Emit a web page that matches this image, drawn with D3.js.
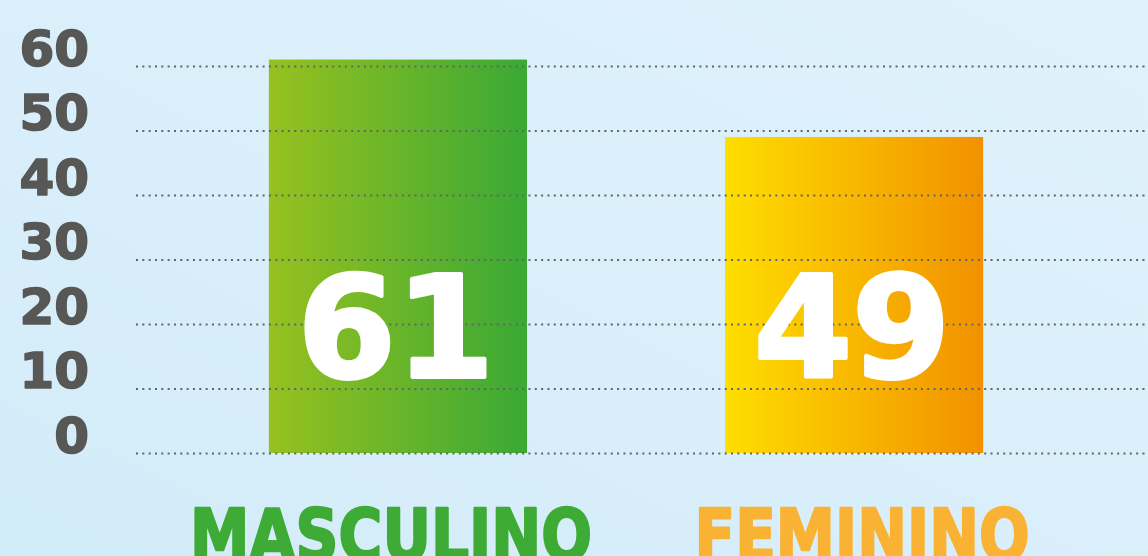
<!DOCTYPE html>
<html>
<head>
<meta charset="utf-8">
<script src="https://cdn.jsdelivr.net/npm/d3@7"></script>
<style>
  html, body { margin: 0; padding: 0; overflow: hidden; }
  svg { display: block; }
</style>
</head>
<body>
<div id="chart"></div>
<script>
const categories = ["MASCULINO", "FEMININO"];
const values = [61, 49];
const yTicks = [0, 10, 20, 30, 40, 50, 60];

const WIDTH = 1148;
const HEIGHT = 556;
const FONT = "'DejaVu Sans', Verdana, sans-serif";

const palettes = [
  { from: "#97c11f", to: "#3aa935", label: "#3dab35" },
  { from: "#ffde00", to: "#f29100", label: "#f9b233" },
];

// category label layout: target width and nudge from the bar centre
const labelWidths = [402, 335];
const labelShift = [-7, 8];

const svg = d3.select("#chart")
  .append("svg")
  .attr("width", WIDTH)
  .attr("height", HEIGHT);

const defs = svg.append("defs");

const bg = defs.append("linearGradient")
  .attr("id", "bg")
  .attr("x1", 0).attr("y1", 1).attr("x2", 1).attr("y2", 0);
bg.append("stop").attr("offset", 0).attr("stop-color", "#d3ecf9");
bg.append("stop").attr("offset", 1).attr("stop-color", "#e0f2fc");

palettes.forEach((p, i) => {
  const g = defs.append("linearGradient")
    .attr("id", `bar-${i}`)
    .attr("x1", 0).attr("y1", 0).attr("x2", 1).attr("y2", 0);
  g.append("stop").attr("offset", 0).attr("stop-color", p.from);
  g.append("stop").attr("offset", 1).attr("stop-color", p.to);
});

svg.append("rect")
  .attr("width", WIDTH)
  .attr("height", HEIGHT)
  .attr("fill", "url(#bg)");

const y = d3.scaleLinear().domain([0, 60]).range([453, 66]);

const x = d3.scaleBand()
  .domain(categories)
  .range([132, 1120])
  .paddingInner(0.434)
  .paddingOuter(0.3);

// bars
svg.append("g")
  .selectAll("rect")
  .data(values)
  .join("rect")
  .attr("x", (d, i) => x(categories[i]))
  .attr("width", x.bandwidth())
  .attr("y", (d) => y(d))
  .attr("height", (d) => y(0) - y(d))
  .attr("fill", (d, i) => `url(#bar-${i})`);

// grid + tick labels, drawn over the bars
const yAxis = d3.axisLeft(y)
  .tickValues(yTicks)
  .tickSize(-(WIDTH - 136))
  .tickPadding(47)
  .tickFormat(d3.format("d"));

const axisG = svg.append("g")
  .attr("transform", "translate(136,0)")
  .call(yAxis);

axisG.select(".domain").remove();
axisG.selectAll(".tick line")
  .attr("stroke", "#626466")
  .attr("stroke-width", 2)
  .attr("stroke-dasharray", "2 4.33");
axisG.selectAll(".tick text")
  .attr("dy", "-0.02em")
  .attr("fill", "#575756")
  .attr("stroke", "#575756")
  .attr("stroke-width", 1.6)
  .attr("stroke-linejoin", "round")
  .attr("font-family", FONT)
  .attr("font-weight", "bold")
  .attr("font-size", 50);

// value labels inside bars
svg.append("g")
  .selectAll("text")
  .data(values)
  .join("text")
  .attr("x", (d, i) => x(categories[i]) + x.bandwidth() / 2 - 2)
  .attr("y", 377)
  .attr("text-anchor", "middle")
  .attr("fill", "#ffffff")
  .attr("stroke", "#ffffff")
  .attr("stroke-width", 4)
  .attr("stroke-linejoin", "round")
  .attr("font-family", FONT)
  .attr("font-weight", "bold")
  .attr("font-size", 141)
  .text((d) => d);

// category labels
svg.append("g")
  .selectAll("text")
  .data(categories)
  .join("text")
  .attr("x", (d, i) => x(d) + x.bandwidth() / 2 + labelShift[i])
  .attr("y", 560)
  .attr("text-anchor", "middle")
  .attr("fill", (d, i) => palettes[i].label)
  .attr("stroke", (d, i) => palettes[i].label)
  .attr("stroke-width", 2.5)
  .attr("stroke-linejoin", "round")
  .attr("font-family", FONT)
  .attr("font-weight", "bold")
  .attr("font-size", 72)
  .attr("textLength", (d, i) => labelWidths[i])
  .attr("lengthAdjust", "spacingAndGlyphs")
  .text((d) => d);
</script>
</body>
</html>
